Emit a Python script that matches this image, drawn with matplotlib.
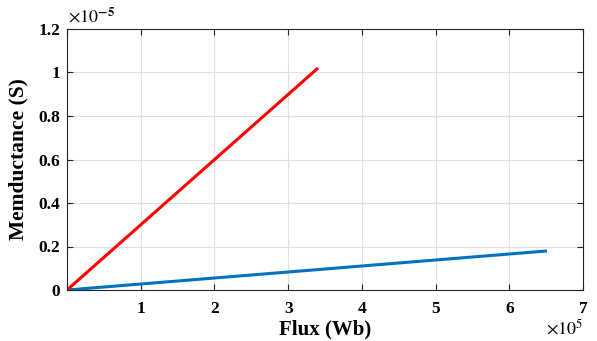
import matplotlib.pyplot as plt

# flux (Wb) and memductance (S) for the two curves
flux_red = [0.0, 3.39e5]
mem_red = [0.0, 1.016e-5]
flux_blue = [0.0, 6.49e5]
mem_blue = [0.0, 0.179e-5]

xticks = [0, 1e5, 2e5, 3e5, 4e5, 5e5, 6e5, 7e5]
xlabels = ["", "1", "2", "3", "4", "5", "6", "7"]
yticks = [0, 0.2e-5, 0.4e-5, 0.6e-5, 0.8e-5, 1.0e-5, 1.2e-5]
ylabels = ["0", "0.2", "0.4", "0.6", "0.8", "1", "1.2"]

plt.rcParams["font.family"] = ["Liberation Serif", "DejaVu Serif"]
plt.rcParams["mathtext.fontset"] = "stix"

fig = plt.figure(figsize=(5.97, 3.41), dpi=100)
ax = fig.add_axes([67 / 597, 51 / 341, 516 / 597, 261 / 341])

ax.plot(flux_blue, mem_blue, color="#0072BD", lw=2.2)
ax.plot(flux_red, mem_red, color="#FF0000", lw=2.2)

ax.set_xlim(0, 7e5)
ax.set_ylim(0, 1.2e-5)
ax.set_xticks(xticks)
ax.set_xticklabels(xlabels)
ax.set_yticks(yticks)
ax.set_yticklabels(ylabels)
ax.grid(True, color="#e0e0e0", lw=0.8)
ax.set_axisbelow(True)
ax.tick_params(direction="in", top=True, right=True, length=4, width=0.8,
               labelsize=12.5, color="#262626")
ax.tick_params(axis="x", pad=8)
ax.tick_params(axis="y", pad=5)
for lab in ax.get_xticklabels() + ax.get_yticklabels():
    lab.set_fontweight("bold")
for s in ax.spines.values():
    s.set_color("#262626")
    s.set_linewidth(0.8)

ax.set_xlabel("Flux (Wb)", fontsize=15, fontweight="bold", labelpad=2)
ax.set_ylabel("Memductance (S)", fontsize=15.5, fontweight="bold", labelpad=7)

fig.text(68 / 597, 1 - 17 / 341, r"$\times10^{\mathbf{-5}}$", fontsize=13,
         ha="left", va="center")
fig.text(583 / 597, 1 - 328 / 341, r"$\times10^{5}$", fontsize=13,
         ha="right", va="center")

fig.savefig("out.png", dpi=100)
